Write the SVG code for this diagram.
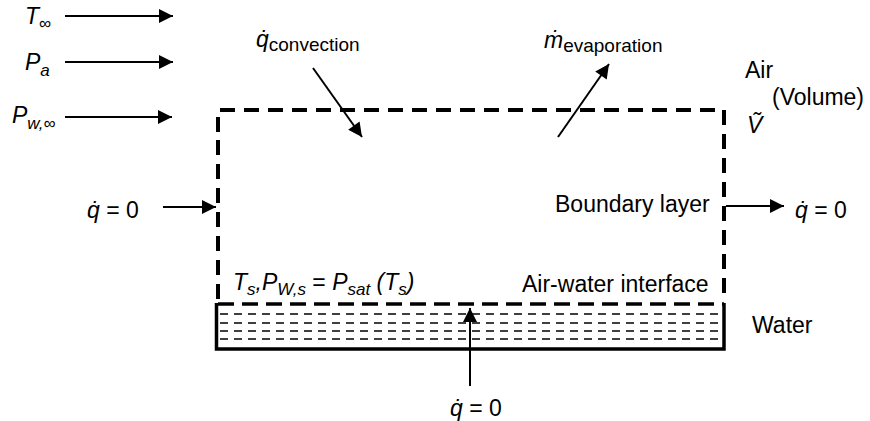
<svg xmlns="http://www.w3.org/2000/svg" width="870" height="421" viewBox="0 0 870 421">
<style>
text{font-family:"Liberation Sans","DejaVu Sans",sans-serif;fill:#000;font-size:23px}
.it{font-style:italic}
.sub{font-size:17px}
.ln{stroke:#000;stroke-width:2;fill:none}
.bd{stroke:#000;stroke-width:4;fill:none;stroke-dasharray:15,9}
.hatch{stroke:#000;stroke-width:1.6;fill:none;stroke-dasharray:8,6}
</style>
<defs>
<marker id="ah" viewBox="0 0 10 10" refX="10" refY="5" markerWidth="10" markerHeight="10" markerUnits="userSpaceOnUse" orient="auto">
<path d="M0,0 L10,5 L0,10 z" fill="#000"/>
</marker>
<marker id="ahL" viewBox="0 0 10 10" refX="10" refY="5" markerWidth="16" markerHeight="14" markerUnits="userSpaceOnUse" orient="auto">
<path d="M0,0 L10,5 L0,10 z" fill="#000"/>
</marker>
</defs>

<g id="control-volume">
<path class="bd" d="M218,132 L218,110 L724,110 L724,300"/>
<path class="bd" d="M218,140 L218,300"/>
</g>

<g id="water">
<path d="M216.5,303 L216.5,349 L724,349 L724,303" stroke="#000" stroke-width="3.5" fill="none"/>
<line x1="218" y1="304" x2="724" y2="304" stroke="#000" stroke-width="3.5" stroke-dasharray="16,8"/>
<line class="hatch" x1="220" y1="314" x2="722" y2="314"/>
<line class="hatch" x1="220" y1="323" x2="722" y2="323"/>
<line class="hatch" x1="220" y1="331" x2="722" y2="331"/>
<line class="hatch" x1="220" y1="339" x2="722" y2="339"/>
<text x="752" y="333">Water</text>
</g>

<g id="inputs">
<text x="25" y="24" class="it" font-size="24">T<tspan class="sub" font-style="normal" dy="5">∞</tspan></text>
<text x="25" y="70" class="it" font-size="24">P<tspan class="sub" dy="6">a</tspan></text>
<text x="12" y="123" class="it" font-size="24">P<tspan class="sub" dy="6">w,∞</tspan></text>
</g>

<g id="convection">
<text x="256" y="47" class="it" font-size="24">q̇<tspan font-style="normal" font-size="19" dy="4">convection</tspan></text>
</g>
<g id="evaporation">
<text x="544" y="48" class="it" font-size="24">ṁ<tspan font-style="normal" font-size="19" dy="4">evaporation</tspan></text>
</g>

<g id="air">
<text x="745" y="78">Air</text>
<text x="772" y="105">(Volume)</text>
<text x="747" y="133" class="it" font-size="24">Ṽ</text>
</g>

<g id="left-flux">
<text x="87" y="218"><tspan class="it">q̇</tspan> = 0</text>
</g>
<g id="boundary">
<text x="555" y="212">Boundary layer</text>
<text x="795" y="218"><tspan class="it">q̇</tspan> = 0</text>
</g>

<g id="interface">
<text x="233" y="290" class="it">T<tspan class="sub" dy="5">s</tspan><tspan dy="-5">,P</tspan><tspan class="sub" dy="5">W,s</tspan><tspan dy="-5" font-style="normal"> = </tspan>P<tspan class="sub" dy="5">sat</tspan><tspan dy="-5"> (T</tspan><tspan class="sub" dy="5">s</tspan><tspan dy="-5">)</tspan></text>
<text x="522" y="292">Air-water interface</text>
</g>

<g id="bottom-flux">
<text x="450" y="416"><tspan class="it">q̇</tspan> = 0</text>
</g>

<g id="connectors">
<line class="ln" x1="65" y1="16" x2="173" y2="16" marker-end="url(#ahL)"/>
<line class="ln" x1="65" y1="62" x2="173" y2="62" marker-end="url(#ahL)"/>
<line class="ln" x1="65" y1="117" x2="172" y2="117" marker-end="url(#ahL)"/>
<line class="ln" x1="313" y1="68" x2="362" y2="137" marker-end="url(#ahL)"/>
<line class="ln" x1="558" y1="137" x2="609" y2="64" marker-end="url(#ahL)"/>
<line class="ln" x1="163" y1="207" x2="216" y2="207" marker-end="url(#ahL)"/>
<line class="ln" x1="726" y1="206" x2="784" y2="206" marker-end="url(#ahL)"/>
<line class="ln" x1="470" y1="386" x2="470" y2="308" marker-end="url(#ahL)"/>
</g>
</svg>
